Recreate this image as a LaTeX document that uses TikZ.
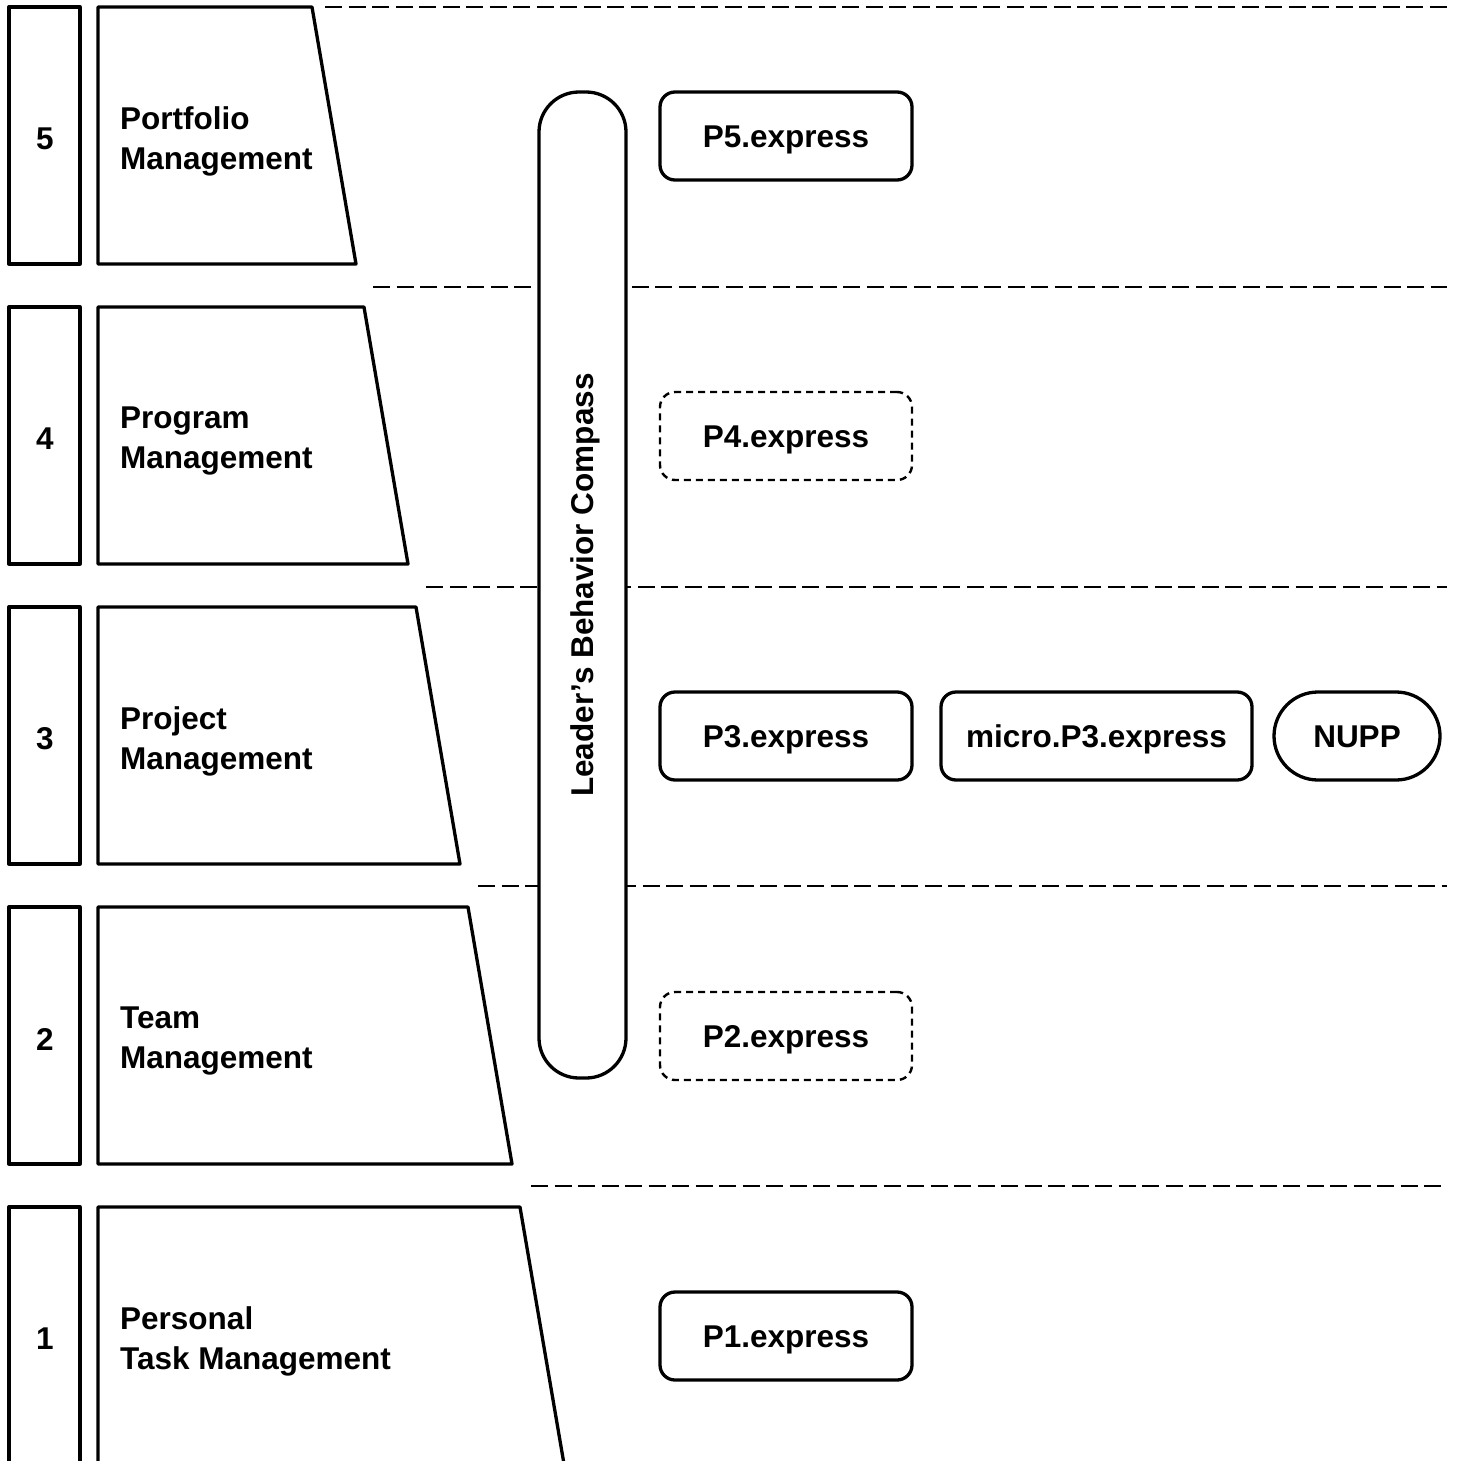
\documentclass[tikz,border=0pt]{standalone}
\usepackage{fontspec}
\setmainfont{Liberation Sans}
\begin{document}
\begin{tikzpicture}[x=1pt,y=-1pt,
  bigfont/.style={font=\fontsize{31.5}{40}\selectfont\bfseries},
  trap/.style={draw, line width=3.3pt, line join=round},
  sepline/.style={line width=2.2pt, dash pattern=on 17pt off 6.5pt},
  numbox/.style={draw, line width=3.3pt, line join=round, rectangle, minimum width=71pt, minimum height=257pt, inner sep=0pt},
  numtxt/.style={inner sep=0pt, bigfont},
  lbl/.style={anchor=west, align=left, inner sep=0pt, bigfont},
  pbox/.style={draw, line width=3.3pt, rounded corners=15pt, minimum width=252pt, minimum height=88pt, inner sep=0pt, fill=white, text height=22.6pt, text depth=0pt, bigfont},
  pdash/.style={pbox, line width=2.4pt, dash pattern=on 7pt off 5pt},
  compassbox/.style={draw, line width=3.3pt, rotate=90, rounded corners=40pt, minimum width=986pt, minimum height=87pt, inner sep=0pt, fill=white, text height=22.6pt, text depth=0pt, bigfont}
]
\useasboundingbox (0,0) rectangle (1457,1461);
\begin{scope}
\clip (0,0) rectangle (1457,1461);
% separator lines
\coordinate (s5a) at (325,7);    \coordinate (s5b) at (1447,7);
\coordinate (s4a) at (373,287);  \coordinate (s4b) at (1447,287);
\coordinate (s3a) at (426,587);  \coordinate (s3b) at (1447,587);
\coordinate (s2a) at (478,886);  \coordinate (s2b) at (1447,886);
\coordinate (s1a) at (531,1186); \coordinate (s1b) at (1447,1186);
\foreach \i in {1,...,5} { \draw[sepline] (s\i a) -- (s\i b); }
% levels
\foreach \k/\txt [evaluate=\k as \d using int(5-\k)] in {5/{Portfolio\\Management},4/{Program\\Management},3/{Project\\Management},2/{Team\\Management},1/{Personal\\Task Management}} {
  \pgfmathsetmacro{\yt}{7+300*\d}
  \pgfmathsetmacro{\yb}{264+300*\d}
  \pgfmathsetmacro{\xt}{312+52*\d}
  \pgfmathsetmacro{\xb}{356+52*\d}
  \node[numbox] (num\k) at (44.5,\yt+128.5) {};
  \node[numtxt] (numt\k) at (45,\yt+132) {\k};
  \draw[trap] (98,\yt) -- (\xt,\yt) -- (\xb,\yb) -- (98,\yb) -- cycle;
  \node[lbl] (lbl\k) at (120,\yt+134) {\txt};
}
% compass
\node[compassbox] (compass) at (582.5,585) {Leader’s Behavior Compass};
% method boxes
\node[pbox]  (p5) at (786,136)  {P5.express};
\node[pdash] (p4) at (786,436)  {P4.express};
\node[pbox]  (p3) at (786,736)  {P3.express};
\node[pdash] (p2) at (786,1036) {P2.express};
\node[pbox]  (p1) at (786,1336) {P1.express};
\node[pbox, minimum width=311pt] (micro) at (1096.5,736) {micro.P3.express};
\node[pbox, minimum width=166pt, rounded corners=44pt] (nupp) at (1357,736) {NUPP};
\end{scope}
\end{tikzpicture}
\end{document}
